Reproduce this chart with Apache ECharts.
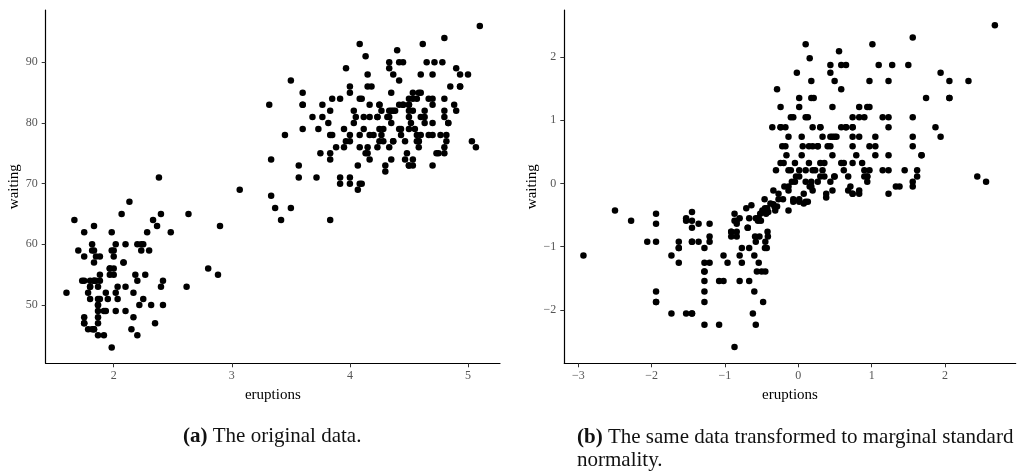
<!DOCTYPE html>
<html>
<head>
<meta charset="utf-8">
<title>faithful</title>
<script src="https://cdn.jsdelivr.net/npm/echarts@6/dist/echarts.min.js"></script>
<style>
  body { margin: 0; background: #fff; }
  #main { width: 1023px; height: 472px; }
</style>
</head>
<body>
<div id="main"></div>
<script>
// Old Faithful: eruption length (min) and waiting time (min), 272 rows
var eruptions = [
  3.6,1.8,3.333,2.283,4.533,2.883,4.7,3.6,1.95,4.35,
  1.833,3.917,4.2,1.75,4.7,2.167,1.75,4.8,1.6,4.25,
  1.8,1.75,3.45,3.067,4.533,3.6,1.967,4.083,3.85,4.433,
  4.3,4.467,3.367,4.033,3.833,2.017,1.867,4.833,1.833,4.783,
  4.35,1.883,4.567,1.75,4.533,3.317,3.833,2.1,4.633,2,
  4.8,4.716,1.833,4.833,1.733,4.883,3.717,1.667,4.567,4.317,
  2.233,4.5,1.75,4.8,1.817,4.4,4.167,4.7,2.067,4.7,
  4.033,1.967,4.5,4,1.983,5.067,2.017,4.567,3.883,3.6,
  4.133,4.333,4.1,2.633,4.067,4.933,3.95,4.517,2.167,4,
  2.2,4.333,1.867,4.817,1.833,4.3,4.667,3.75,1.867,4.9,
  2.483,4.367,2.1,4.5,4.05,1.867,4.7,1.783,4.85,3.683,
  4.733,2.3,4.9,4.417,1.7,4.633,2.317,4.6,1.817,4.417,
  2.617,4.067,4.25,1.967,4.6,3.767,1.917,4.5,2.267,4.65,
  1.867,4.167,2.8,4.333,1.833,4.383,1.883,4.933,2.033,3.733,
  4.233,2.233,4.533,4.817,4.333,1.983,4.633,2.017,5.1,1.8,
  5.033,4,2.4,4.6,3.567,4,4.5,4.083,1.8,3.967,
  2.2,4.15,2,3.833,3.5,4.583,2.367,5,1.933,4.617,
  1.917,2.083,4.583,3.333,4.167,4.333,4.5,2.417,4,4.167,
  1.883,4.583,4.25,3.767,2.033,4.433,4.083,1.833,4.417,2.183,
  4.8,1.833,4.8,4.1,3.966,4.233,3.5,4.366,2.25,4.667,
  2.1,4.35,4.133,1.867,4.6,1.783,4.367,3.85,1.933,4.5,
  2.383,4.7,1.867,3.833,3.417,4.233,2.4,4.8,2,4.15,
  1.867,4.267,1.75,4.483,4,4.117,4.083,4.267,3.917,4.55,
  4.083,2.417,4.183,2.217,4.45,1.883,1.85,4.283,3.95,2.333,
  4.15,2.35,4.933,2.9,4.583,3.833,2.083,4.367,2.133,4.35,
  2.2,4.45,3.567,4.5,4.15,3.817,3.917,4.45,2,4.283,
  4.767,4.533,1.85,4.25,1.983,2.25,4.75,4.117,2.15,4.417,
  1.817,4.467
];
var waiting = [
  79,54,74,62,85,55,88,85,51,85,
  54,84,78,47,83,52,62,84,52,79,
  51,47,78,69,74,83,55,76,78,79,
  73,77,66,80,74,52,48,80,59,90,
  80,58,84,58,73,83,64,53,82,59,
  75,90,54,80,54,83,71,64,77,81,
  59,84,48,82,60,92,78,78,65,73,
  82,56,79,71,62,76,60,78,76,83,
  75,82,70,65,73,88,76,80,48,86,
  60,90,50,78,63,72,84,75,51,82,
  62,88,49,83,81,47,84,52,86,81,
  75,59,89,79,59,81,50,85,59,87,
  53,69,77,56,88,81,45,82,55,90,
  45,83,56,89,46,82,51,86,53,79,
  81,60,82,77,76,59,80,49,96,53,
  77,77,65,81,71,70,81,93,53,89,
  45,86,58,78,66,76,63,88,52,93,
  49,57,77,68,81,81,73,50,85,74,
  55,77,83,83,51,78,84,46,83,55,
  81,57,76,84,77,81,87,77,51,78,
  60,82,91,53,78,46,77,84,49,83,
  71,80,49,75,64,76,53,94,55,76,
  50,82,54,75,78,79,78,78,70,79,
  70,54,86,50,90,54,54,77,79,64,
  75,47,86,63,85,82,57,82,67,74,
  54,83,73,73,88,80,71,83,56,79,
  78,84,58,83,43,60,75,81,46,90,
  46,74
];

// normal scores, one per distinct eruption value
var eruptLevels = [
  1.6,1.667,1.7,1.733,1.75,1.783,1.8,1.817,1.833,1.85,
  1.867,1.883,1.917,1.933,1.95,1.967,1.983,2,2.017,2.033,
  2.067,2.083,2.1,2.133,2.15,2.167,2.183,2.2,2.217,2.233,
  2.25,2.267,2.283,2.3,2.317,2.333,2.35,2.367,2.383,2.4,
  2.417,2.483,2.617,2.633,2.8,2.883,2.9,
  3.067,3.317,3.333,3.367,3.417,3.45,3.5,3.567,3.6,3.683,
  3.717,3.733,3.75,3.767,3.817,3.833,3.85,3.883,3.917,3.95,
  3.966,3.967,4,4.033,4.05,4.067,4.083,4.1,4.117,4.133,
  4.15,4.167,4.183,4.2,4.233,4.25,4.267,4.283,4.3,4.317,
  4.333,4.35,4.366,4.367,4.383,4.4,4.417,4.433,4.45,4.467,
  4.483,4.5,4.517,4.533,4.55,4.567,4.583,4.6,4.617,4.633,
  4.65,4.667,4.7,4.716,4.733,4.75,4.767,4.783,4.8,4.817,
  4.833,4.85,4.883,4.9,4.933,5,5.033,5.067,5.1
];
var eruptScores = [
  -2.93,-2.50,-2.28,-2.06,-1.94,-1.73,-1.63,-1.53,-1.45,-1.36,
  -1.28,-1.21,-1.08,-1.02,-0.965,-0.915,-0.87,-0.84,-0.80,-0.77,
  -0.71,-0.69,-0.67,-0.64,-0.62,-0.60,-0.59,-0.58,-0.565,-0.55,
  -0.54,-0.53,-0.52,-0.51,-0.50,-0.49,-0.48,-0.47,-0.46,-0.455,
  -0.45,-0.44,-0.43,-0.425,-0.42,-0.415,-0.41,
  -0.38,-0.355,-0.34,-0.325,-0.315,-0.305,-0.29,-0.27,-0.242,-0.219,
  -0.209,-0.2,-0.19,-0.176,-0.162,-0.134,-0.102,-0.088,-0.069,-0.046,
  -0.032,-0.02,0.012,0.046,0.06,0.074,0.1,0.13,0.145,0.155,
  0.177,0.195,0.21,0.23,0.265,0.3,0.33,0.355,0.38,0.4,
  0.437,0.465,0.49,0.495,0.52,0.555,0.585,0.62,0.65,0.68,
  0.71,0.74,0.79,0.83,0.87,0.9,0.94,0.97,1.01,1.05,
  1.096,1.15,1.23,1.28,1.33,1.38,1.45,1.5,1.56,1.62,
  1.68,1.742,1.87,1.94,2.06,2.32,2.44,2.56,2.68
];
// normal scores, one per distinct waiting value
var waitLevels = [
  43,45,46,47,48,49,50,51,52,53,54,55,56,57,58,59,60,62,63,64,
  65,66,67,68,69,70,71,72,73,74,75,76,77,78,79,80,81,82,83,84,
  85,86,87,88,89,90,91,92,93,94,96
];
var waitScores = [
  -2.585,-2.232,-2.054,-1.874,-1.706,-1.542,-1.39,-1.253,-1.137,-1.021,
  -0.921,-0.837,-0.763,-0.70,-0.637,-0.589,-0.55,-0.479,-0.452,-0.427,
  -0.39,-0.365,-0.345,-0.33,-0.315,-0.29,-0.25,-0.22,-0.163,-0.11,
  -0.047,0.027,0.111,0.211,0.322,0.448,0.59,0.738,0.891,1.049,
  1.21,1.35,1.49,1.62,1.75,1.875,1.98,2.09,2.20,2.31,2.50
];

var ticksA_x = [2, 3, 4, 5];
var ticksA_y = [50, 60, 70, 80, 90];
var ticksB_x = [-3, -2, -1, 0, 1, 2];
var ticksB_y = [-2, -1, 0, 1, 2];

var rawData = eruptions.map(function (e, i) { return [e, waiting[i]]; });
var normData = eruptions.map(function (e, i) {
  return [eruptScores[eruptLevels.indexOf(e)], waitScores[waitLevels.indexOf(waiting[i])]];
});

var serif = "'Liberation Serif', 'DejaVu Serif', serif";

function minus(v) {
  return v < 0 ? '\u2212' + Math.abs(v) : String(v);
}

function makeAxis(opt) {
  return {
    type: 'value',
    gridIndex: opt.grid,
    min: opt.min,
    max: opt.max,
    name: opt.name,
    nameLocation: 'middle',
    nameGap: opt.nameGap,
    nameTextStyle: { fontFamily: serif, fontSize: 15, color: '#000' },
    axisLine: { show: true, onZero: false, lineStyle: { color: '#000', width: 1.2 } },
    axisTick: { show: true, length: 4, customValues: opt.ticks, lineStyle: { color: '#333', width: 1 } },
    axisLabel: {
      customValues: opt.ticks,
      margin: opt.margin,
      fontFamily: serif,
      fontSize: 12,
      color: '#555',
      formatter: minus
    },
    splitLine: { show: false }
  };
}

var chart = echarts.init(document.getElementById('main'));

var dot = { color: '#000', opacity: 1 };

chart.setOption({
  animation: false,
  backgroundColor: '#fff',
  title: [
    {
      text: '{b|(a)} The original data.',
      left: 183, top: 426, padding: 0,
      textStyle: {
        fontFamily: serif, fontSize: 21, fontWeight: 'normal', color: '#111',
        rich: { b: { fontFamily: serif, fontSize: 21, fontWeight: 'bold', color: '#111' } }
      }
    },
    {
      text: '{b|(b)} The same data transformed to marginal standard\nnormality.',
      left: 577, top: 426, padding: 0,
      textStyle: {
        fontFamily: serif, fontSize: 21, fontWeight: 'normal', color: '#111', lineHeight: 23,
        rich: { b: { fontFamily: serif, fontSize: 21, fontWeight: 'bold', color: '#111', lineHeight: 23 } }
      }
    }
  ],
  grid: [
    { left: 45.7, top: 10, width: 454.3, height: 353.3 },
    { left: 564.3, top: 10, width: 451.4, height: 353.3 }
  ],
  xAxis: [
    makeAxis({ grid: 0, min: 1.424, max: 5.271, ticks: ticksA_x, name: 'eruptions', nameGap: 22, margin: 7 }),
    makeAxis({ grid: 1, min: -3.191, max: 2.964, ticks: ticksB_x, name: 'eruptions', nameGap: 22, margin: 7 })
  ],
  yAxis: [
    makeAxis({ grid: 0, min: 40.39, max: 98.62, ticks: ticksA_y, name: 'waiting', nameGap: 24, margin: 8 }),
    makeAxis({ grid: 1, min: -2.843, max: 2.743, ticks: ticksB_y, name: 'waiting', nameGap: 24, margin: 8 })
  ],
  series: [
    {
      type: 'scatter', xAxisIndex: 0, yAxisIndex: 0,
      data: rawData, symbol: 'circle', symbolSize: 6.5,
      itemStyle: dot, silent: true
    },
    {
      type: 'scatter', xAxisIndex: 1, yAxisIndex: 1,
      data: normData, symbol: 'circle', symbolSize: 6.5,
      itemStyle: dot, silent: true
    }
  ]
});
</script>
</body>
</html>
